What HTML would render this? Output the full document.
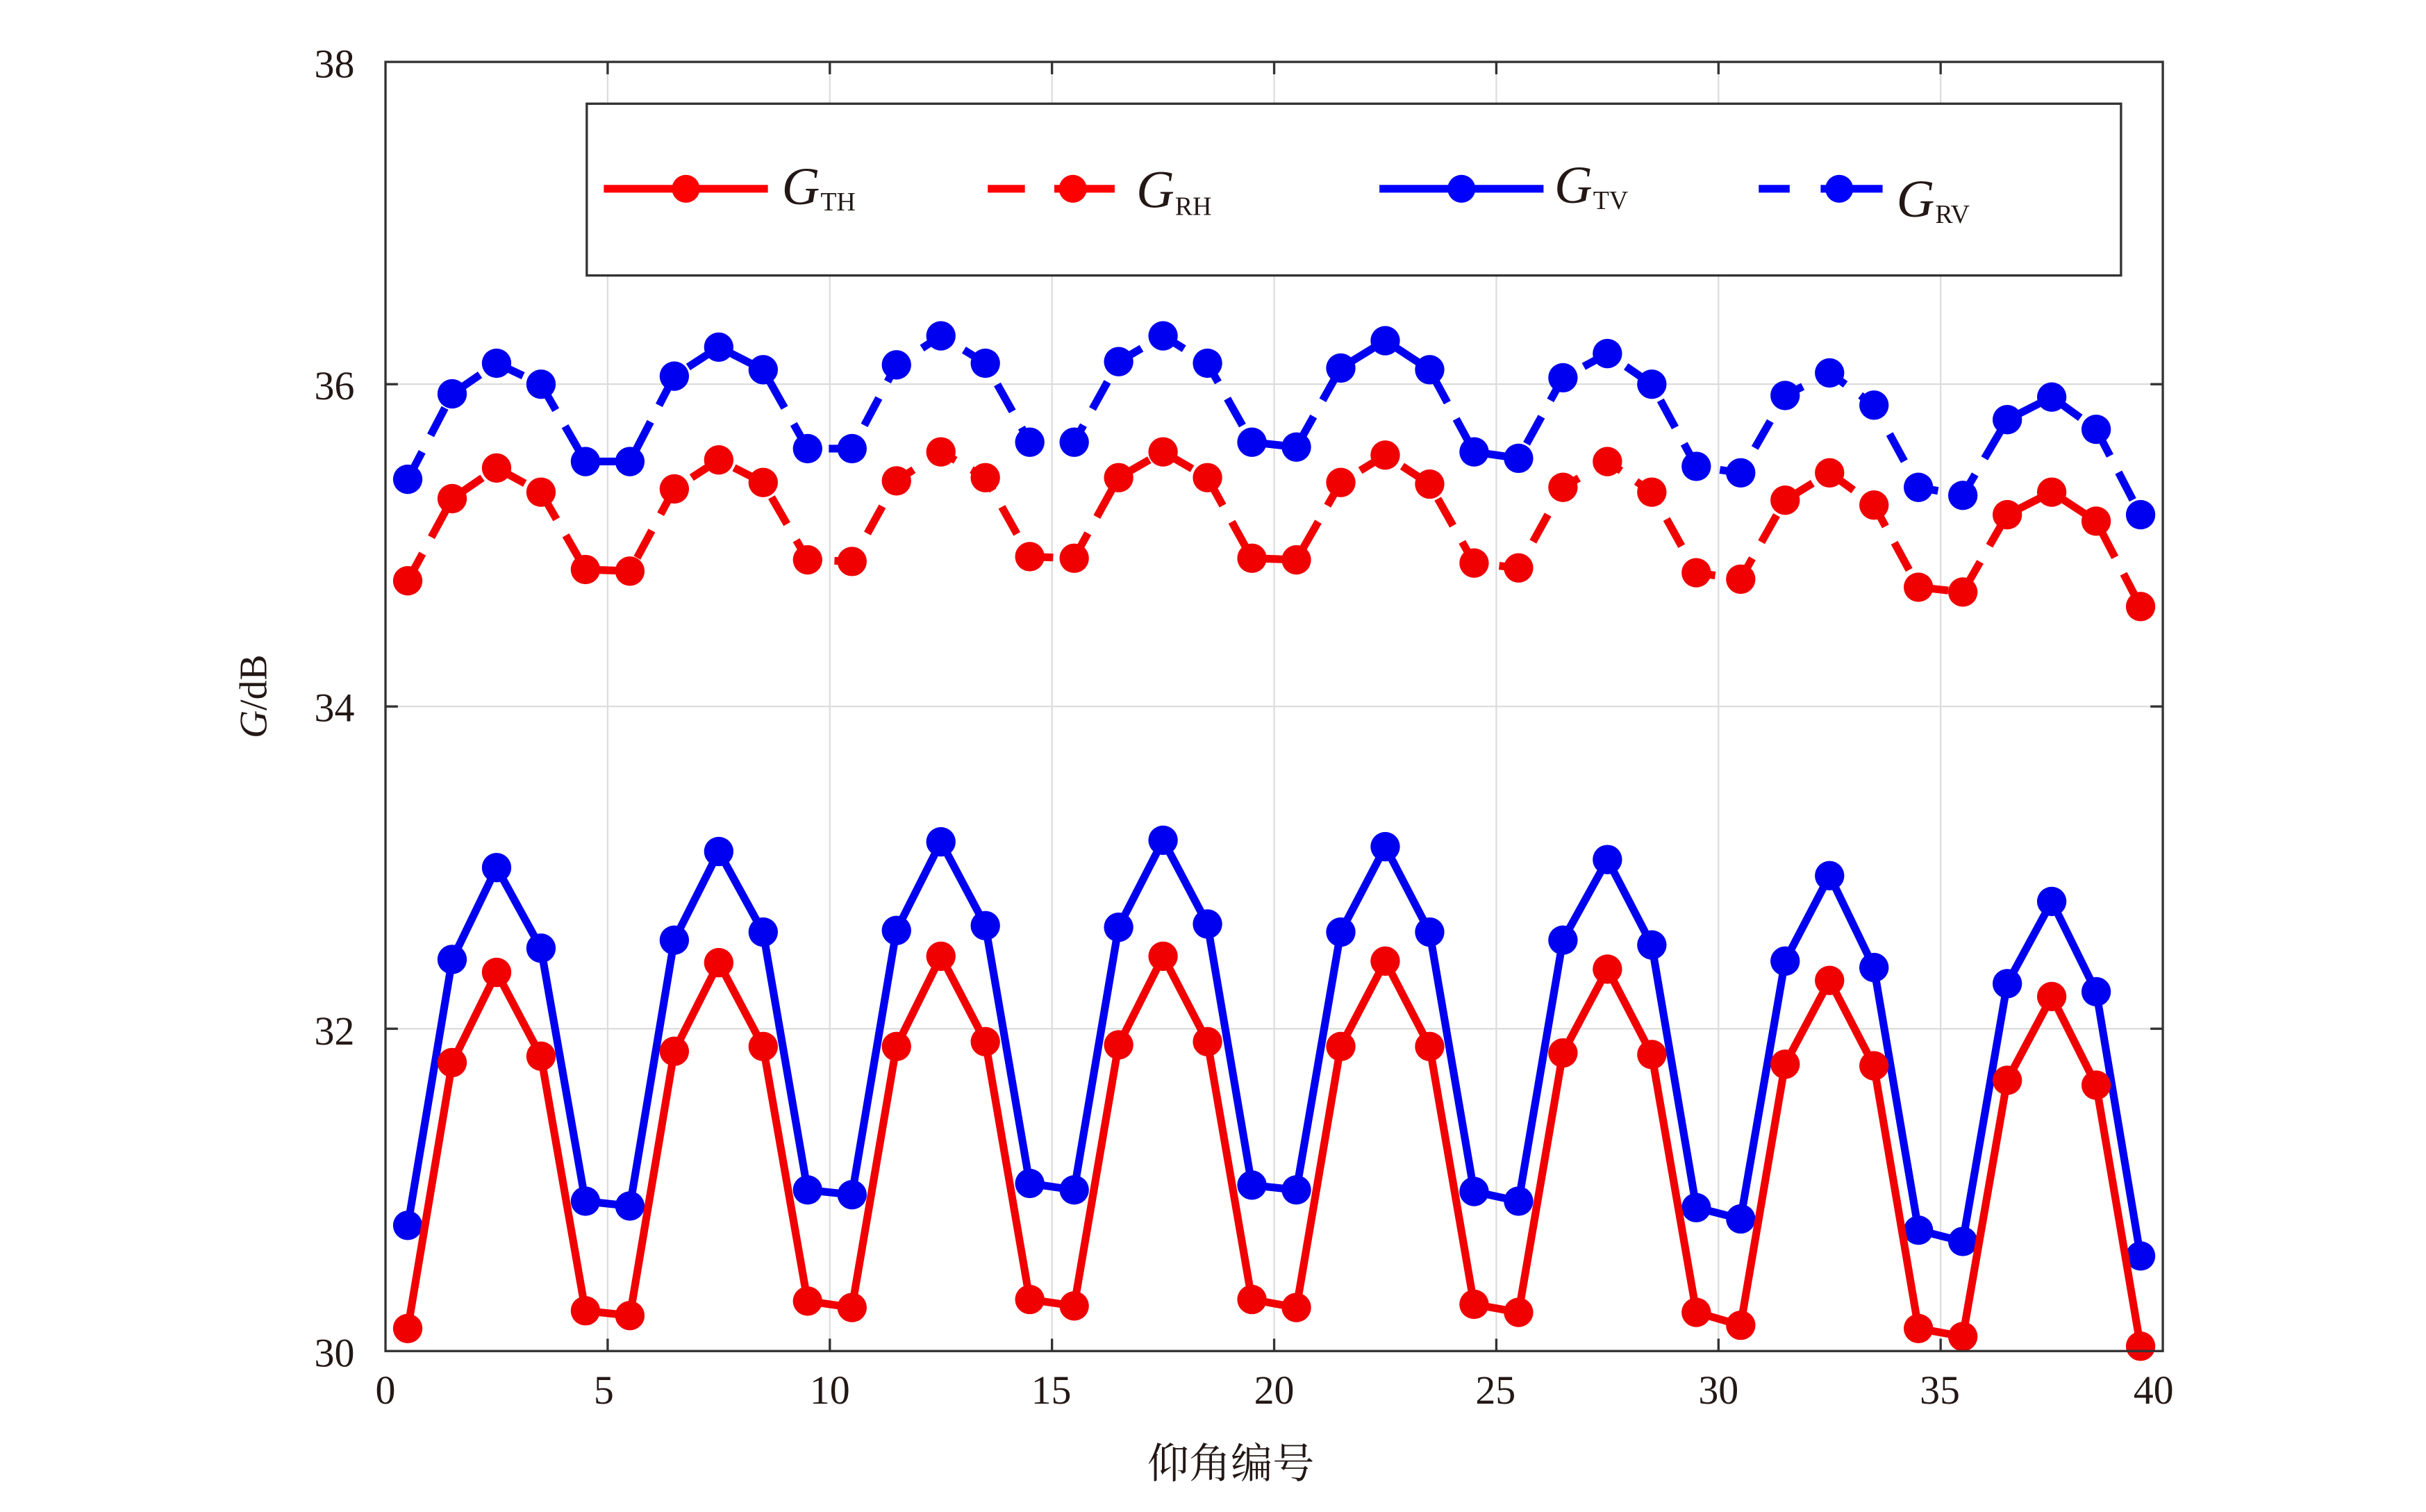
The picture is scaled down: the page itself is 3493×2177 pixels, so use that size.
<!DOCTYPE html>
<html><head><meta charset="utf-8"><style>
html,body{margin:0;padding:0;background:#fff;}
svg{display:block;}
text{font-family:"Liberation Serif","Noto Serif CJK SC",serif;fill:#231815;}
</style></head><body>
<svg id="s" width="3493" height="2177" viewBox="0 0 1567 977" preserveAspectRatio="none" xmlns="http://www.w3.org/2000/svg">
<rect x="0" y="0" width="1567" height="977" fill="#fff"/>
<g id="grid" stroke="#dcdcdc" stroke-width="1"></g>
<g id="series"></g>
<rect x="249" y="40" width="1148" height="833" fill="none" stroke="#333" stroke-width="1.5"/>
<g id="ticks" stroke="#333" stroke-width="1.5"></g>
<g font-size="26" text-anchor="end">
<text x="229" y="50">38</text><text x="229" y="258">36</text><text x="229" y="466">34</text><text x="229" y="675">32</text><text x="229" y="883">30</text>
</g>
<g font-size="26" text-anchor="middle">
<text x="249" y="907">0</text><text x="390" y="907">5</text><text x="536" y="907">10</text><text x="679" y="907">15</text><text x="823" y="907">20</text><text x="966" y="907">25</text><text x="1110" y="907">30</text><text x="1253" y="907">35</text><text x="1391" y="907">40</text>
</g>
<text x="795" y="955" font-size="27" text-anchor="middle">仰角编号</text>
<text transform="translate(172,450) rotate(-90)" font-size="25" text-anchor="middle"><tspan font-style="italic">G</tspan>/dB</text>
<!-- legend -->
<rect x="379" y="67" width="991" height="111" fill="#fff" stroke="#333" stroke-width="1.5"/>
<line x1="390" y1="122" x2="496" y2="122" stroke="#f00" stroke-width="5"/>
<circle cx="443" cy="122" r="9" fill="#f00"/>
<text x="505" y="132" font-size="34" font-style="italic">G</text><text x="530" y="136" font-size="17">TH</text>
<line x1="638" y1="122" x2="662" y2="122" stroke="#f00" stroke-width="5"/>
<line x1="681" y1="122" x2="720" y2="122" stroke="#f00" stroke-width="5"/>
<circle cx="693" cy="122" r="9" fill="#f00"/>
<text x="734" y="134" font-size="34" font-style="italic">G</text><text x="759" y="139" font-size="17">RH</text>
<line x1="891" y1="122" x2="997" y2="122" stroke="#00f" stroke-width="5"/>
<circle cx="944" cy="122" r="9" fill="#00f"/>
<text x="1004" y="131" font-size="34" font-style="italic">G</text><text x="1029" y="135" font-size="17">TV</text>
<line x1="1136" y1="122" x2="1156" y2="122" stroke="#00f" stroke-width="5"/>
<line x1="1176" y1="122" x2="1216" y2="122" stroke="#00f" stroke-width="5"/>
<circle cx="1188" cy="122" r="9" fill="#00f"/>
<text x="1225" y="140" font-size="34" font-style="italic">G</text><text x="1250" y="144" font-size="17">RV</text>
</svg>
<script>
var NS="http://www.w3.org/2000/svg";
function X(v){return 249+v*28.7;}
function Y(v){return 873-(v-30)*104.125;}
var g=document.getElementById('grid'),t=document.getElementById('ticks'),s=document.getElementById('series');
function ln(p,a,b,c,d){var e=document.createElementNS(NS,'line');e.setAttribute('x1',a);e.setAttribute('y1',b);e.setAttribute('x2',c);e.setAttribute('y2',d);p.appendChild(e);}
for(var i=5;i<40;i+=5){ln(g,X(i),40,X(i),873);ln(t,X(i),873,X(i),865);ln(t,X(i),40,X(i),48);}
for(var v=32;v<=36;v+=2){ln(g,249,Y(v),1397,Y(v));ln(t,249,Y(v),257,Y(v));ln(t,1397,Y(v),1389,Y(v));}
var GTH=[30.14,31.79,32.35,31.83,30.25,30.22,31.86,32.41,31.89,30.31,30.27,31.89,32.45,31.92,30.32,30.28,31.9,32.45,31.92,30.32,30.27,31.89,32.42,31.89,30.29,30.24,31.85,32.37,31.84,30.24,30.16,31.78,32.3,31.77,30.14,30.09,31.68,32.2,31.65,30.03];
var GTV=[30.78,32.43,33.0,32.5,30.93,30.9,32.55,33.1,32.6,31.0,30.97,32.61,33.16,32.64,31.04,31.0,32.63,33.17,32.65,31.03,31.0,32.6,33.13,32.6,30.99,30.93,32.55,33.05,32.52,30.89,30.82,32.42,32.95,32.38,30.75,30.68,32.28,32.79,32.23,30.59];
var GRH=[34.78,35.29,35.48,35.33,34.85,34.84,35.35,35.53,35.39,34.91,34.9,35.4,35.58,35.42,34.93,34.92,35.42,35.58,35.42,34.92,34.91,35.39,35.56,35.38,34.89,34.86,35.36,35.52,35.33,34.83,34.79,35.28,35.45,35.25,34.74,34.71,35.19,35.33,35.15,34.62];
var GRV=[35.41,35.94,36.13,36.0,35.52,35.52,36.05,36.23,36.09,35.6,35.6,36.12,36.3,36.13,35.64,35.64,36.14,36.3,36.13,35.64,35.61,36.1,36.27,36.09,35.58,35.54,36.04,36.19,36.0,35.49,35.45,35.93,36.07,35.87,35.36,35.31,35.78,35.92,35.72,35.19];
function draw(d,col,dash){
 var pts=d.map(function(v,i){return X(i+0.5).toFixed(1)+','+Y(v).toFixed(1);}).join(' ');
 var p=document.createElementNS(NS,'polyline');p.setAttribute('points',pts);p.setAttribute('fill','none');p.setAttribute('stroke',col);p.setAttribute('stroke-width','5');p.setAttribute('stroke-linejoin','round');
 if(dash)p.setAttribute('stroke-dasharray','20 12');
 s.appendChild(p);
 d.forEach(function(v,i){var c=document.createElementNS(NS,'circle');c.setAttribute('cx',X(i+0.5));c.setAttribute('cy',Y(v));c.setAttribute('r','9.5');c.setAttribute('fill',col);s.appendChild(c);});
}
draw(GRV,'#0000f0',true);draw(GRH,'#f00000',true);draw(GTV,'#0000f0',false);draw(GTH,'#f00000',false);
</script>
</body></html>
